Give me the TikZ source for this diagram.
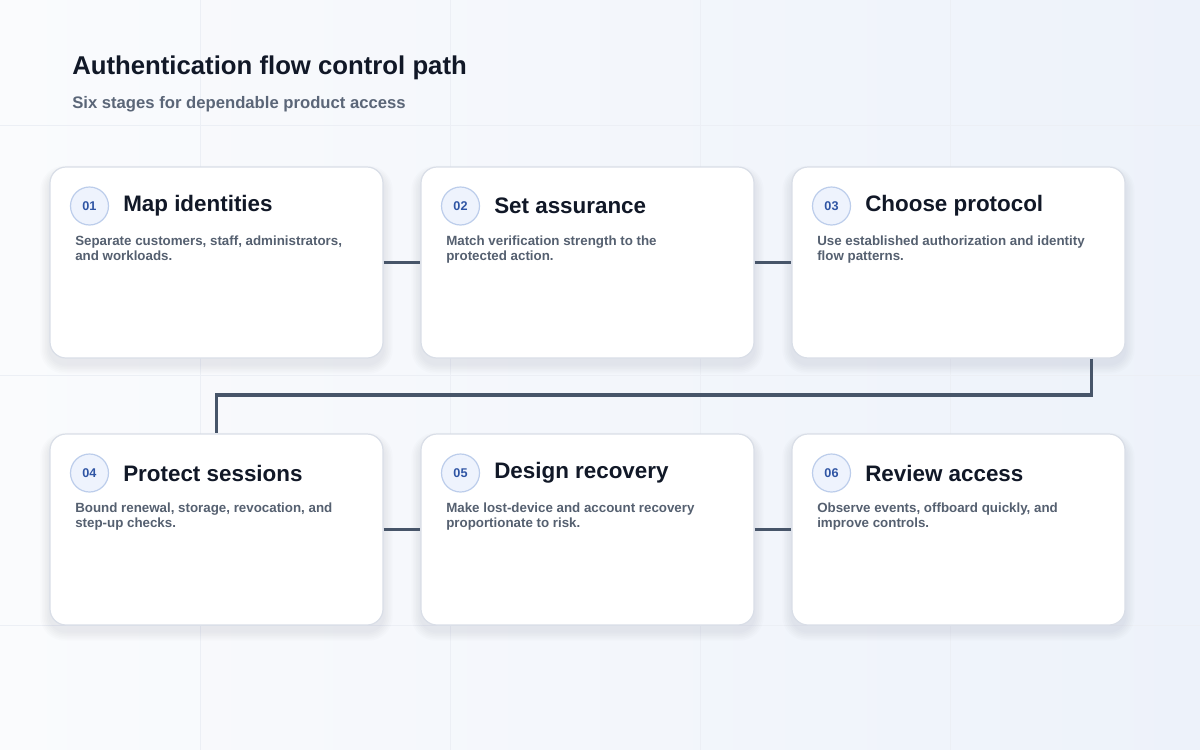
\documentclass[tikz,border=0pt]{standalone}
\usepackage{fontspec}
\setmainfont{Liberation Sans}
\definecolor{bgA}{HTML}{FAFBFD}
\definecolor{bgB}{HTML}{EDF2FA}
\definecolor{cardline}{HTML}{D9DEE7}
\definecolor{ink}{HTML}{111827}
\definecolor{sub}{HTML}{5B6678}
\definecolor{desc}{HTML}{556070}
\definecolor{conn}{HTML}{475569}
\definecolor{badgefill}{HTML}{EEF3FD}
\definecolor{badgeline}{HTML}{BCCDEB}
\definecolor{badgetext}{HTML}{2F55A4}
\definecolor{grid}{HTML}{ECEFF5}
\definecolor{shad}{HTML}{64748B}
\begin{document}
\begin{tikzpicture}[x=0.75pt,y=-0.75pt,
  card/.style={draw=cardline,line width=0.9pt,fill=white,rounded corners=12pt,
    minimum width=249.75pt,minimum height=143.25pt,inner sep=0pt},
  badge/.style={circle,draw=badgeline,line width=0.9pt,fill=badgefill,minimum size=28.5pt,inner sep=0pt,
    text=badgetext,font=\bfseries\fontsize{9.5pt}{10pt}\selectfont},
  ttl/.style={anchor=west,inner sep=0pt,text=ink,font=\bfseries\fontsize{16.8pt}{19pt}\selectfont},
  dsc/.style={anchor=north west,inner sep=0pt,align=left,text=desc,font=\bfseries\fontsize{10pt}{11.25pt}\selectfont},
  conn/.style={draw=conn,line width=2.4pt}]
\useasboundingbox (0,0) rectangle (1200,750);
\shade[left color=bgA,right color=bgB] (0,0) rectangle (1200,750);
\foreach \y in {125,375,625} \draw[grid,line width=0.6pt] (0,\y) -- (1200,\y);
\foreach \x in {200,450,700,950} \draw[grid,line width=0.6pt] (\x,0) -- (\x,750);
\node[anchor=west,inner sep=0pt,text=ink,font=\bfseries\fontsize{19.3pt}{22pt}\selectfont] (title) at (72,68) {Authentication flow control path};
\node[anchor=west,inner sep=0pt,text=sub,font=\bfseries\fontsize{12.5pt}{14pt}\selectfont] (subtitle) at (72,104) {Six stages for dependable product access};

\coordinate (mid) at (0,395);
\foreach \x/\y in {50/167,421/167,792/167,50/434,421/434,792/434}{
  \foreach \k in {1,...,6}{
    \fill[shad,opacity=0.018,rounded corners=12pt+\k pt] (\x-1.6*\k,\y+6-1.2*\k) rectangle (\x+333+1.6*\k,\y+191+6+1.6*\k);
  }
}
\node[card] (c1) at (216.5,262.5) {};
\node[card] (c2) at (587.5,262.5) {};
\node[card] (c3) at (958.5,262.5) {};
\node[card] (c4) at (216.5,529.5) {};
\node[card] (c5) at (587.5,529.5) {};
\node[card] (c6) at (958.5,529.5) {};
\path[conn] (c1.east) -- (c2.west);
\path[conn] (c2.east) -- (c3.west);
\path[conn] (c4.east) -- (c5.west);
\path[conn] (c5.east) -- (c6.west);
\coordinate (s0) at ([xshift=-25.5pt]c3.south east);
\path[conn] (s0) -- (s0 |- mid) -- (c4.north |- mid) -- (c4.north);

\foreach \n/\x/\y/\num/\t/\d in {
 1/50/167/01/Map identities/{Separate customers, staff, administrators,\\and workloads.},
 2/421/167/02/Set assurance/{Match verification strength to the\\protected action.},
 3/792/167/03/Choose protocol/{Use established authorization and identity\\flow patterns.},
 4/50/434/04/Protect sessions/{Bound renewal, storage, revocation, and\\step-up checks.},
 5/421/434/05/Design recovery/{Make lost-device and account recovery\\proportionate to risk.},
 6/792/434/06/Review access/{Observe events, offboard quickly, and\\improve controls.}}{
  \node[badge] (b\n) at (\x+39.5,\y+39) {\num};
  \node[ttl] (t\n) at (\x+73,\y+39) {\t};
  \node[dsc] (d\n) at (\x+25,\y+69) {\d};
}
\end{tikzpicture}
\end{document}
